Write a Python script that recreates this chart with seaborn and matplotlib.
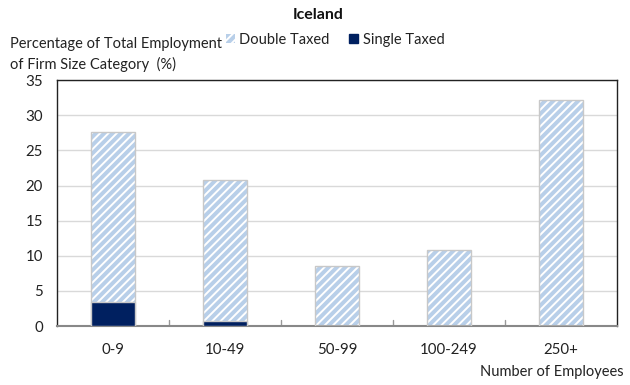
import matplotlib
matplotlib.use("Agg")
import matplotlib.pyplot as plt
from matplotlib.patches import Patch
import seaborn as sns
import pandas as pd
import numpy as np

categories = ["0-9", "10-49", "50-99", "100-249", "250+"]
double_taxed = [24.2, 20.1, 8.5, 10.8, 32.1]
single_taxed = [3.4, 0.7, 0.0, 0.0, 0.0]
y_ticks = [0, 5, 10, 15, 20, 25, 30, 35]

sns.set_theme(style="white")
plt.rcParams["font.family"] = ["Lato", "DejaVu Sans"]
plt.rcParams["hatch.linewidth"] = 1.4
plt.rcParams["hatch.color"] = "white"

light_blue = "#b8cfe9"
navy = "#002060"
fs = 10.5

df = pd.DataFrame({
    "size": categories,
    "double": double_taxed,
    "single": single_taxed,
})
df["total"] = df["double"] + df["single"]

fig = plt.figure(figsize=(6.3, 3.85), dpi=100)
ax = fig.add_axes([0.0905, 0.153, 0.889, 0.639])

sns.barplot(data=df, x="size", y="total", color=light_blue, width=0.4,
            saturation=1, ax=ax, zorder=2)
for p in ax.patches:
    p.set_hatch("////")
    p.set_edgecolor("white")
    p.set_linewidth(0)
# outline for the hatched bars
for p in list(ax.patches):
    ax.add_patch(plt.Rectangle((p.get_x(), p.get_y()), p.get_width(), p.get_height(),
                               fill=False, edgecolor="#c8c8c8", linewidth=1.0, zorder=3))

sns.barplot(data=df, x="size", y="single", color=navy, width=0.4,
            saturation=1, ax=ax, zorder=4)
for p in ax.patches[-len(categories):]:
    if p.get_height() > 0:
        p.set_edgecolor("#c8c8c8")
        p.set_linewidth(1.0)

ax.set_ylim(0, 35)
ax.set_xlim(-0.5, len(categories) - 0.5)
ax.set_yticks(y_ticks)
ax.set_yticklabels([str(v) for v in y_ticks], fontsize=fs + 0.3, color="#222222")
ax.tick_params(axis="x", length=0, labelsize=fs + 0.3, pad=12, labelcolor="#222222")
ax.tick_params(axis="y", length=0, pad=10)
ax.set_xlabel("")
ax.set_ylabel("")
ax.yaxis.grid(True, color="#d9d9d9", linewidth=1, zorder=0)
ax.set_axisbelow(True)

# small separator ticks between categories
for xb in np.arange(0.5, len(categories) - 0.5, 1.0):
    ax.plot([xb, xb], [0, 0.8], color="#999999", linewidth=1, zorder=1)

for side in ["left", "top", "right"]:
    ax.spines[side].set_color("#222222")
    ax.spines[side].set_linewidth(1.0)
ax.spines["bottom"].set_color("#888888")
ax.spines["bottom"].set_linewidth(1.5)

fig.text(0.505, 0.96, "Iceland", ha="center", va="center", fontsize=fs + 1,
         fontweight="bold", color="#111111")
fig.text(0.016, 0.885, "Percentage of Total Employment", ha="left", va="center",
         fontsize=fs, color="#222222")
fig.text(0.016, 0.832, "of Firm Size Category  (%)", ha="left", va="center",
         fontsize=fs, color="#222222")
fig.text(0.99, 0.033, "Number of Employees", ha="right", va="center",
         fontsize=fs, color="#222222")

handles = [
    Patch(facecolor=light_blue, edgecolor="white", hatch="////", linewidth=0),
    Patch(facecolor=navy, edgecolor=navy),
]
fig.legend(handles, ["Double Taxed", "Single Taxed"], loc="center left",
           bbox_to_anchor=(0.358, 0.897), ncol=2, frameon=False, fontsize=fs,
           handlelength=0.65, handleheight=0.65, handletextpad=0.3,
           columnspacing=1.3, labelcolor="#222222", borderpad=0, borderaxespad=0)

fig.savefig("out.png", dpi=100)
